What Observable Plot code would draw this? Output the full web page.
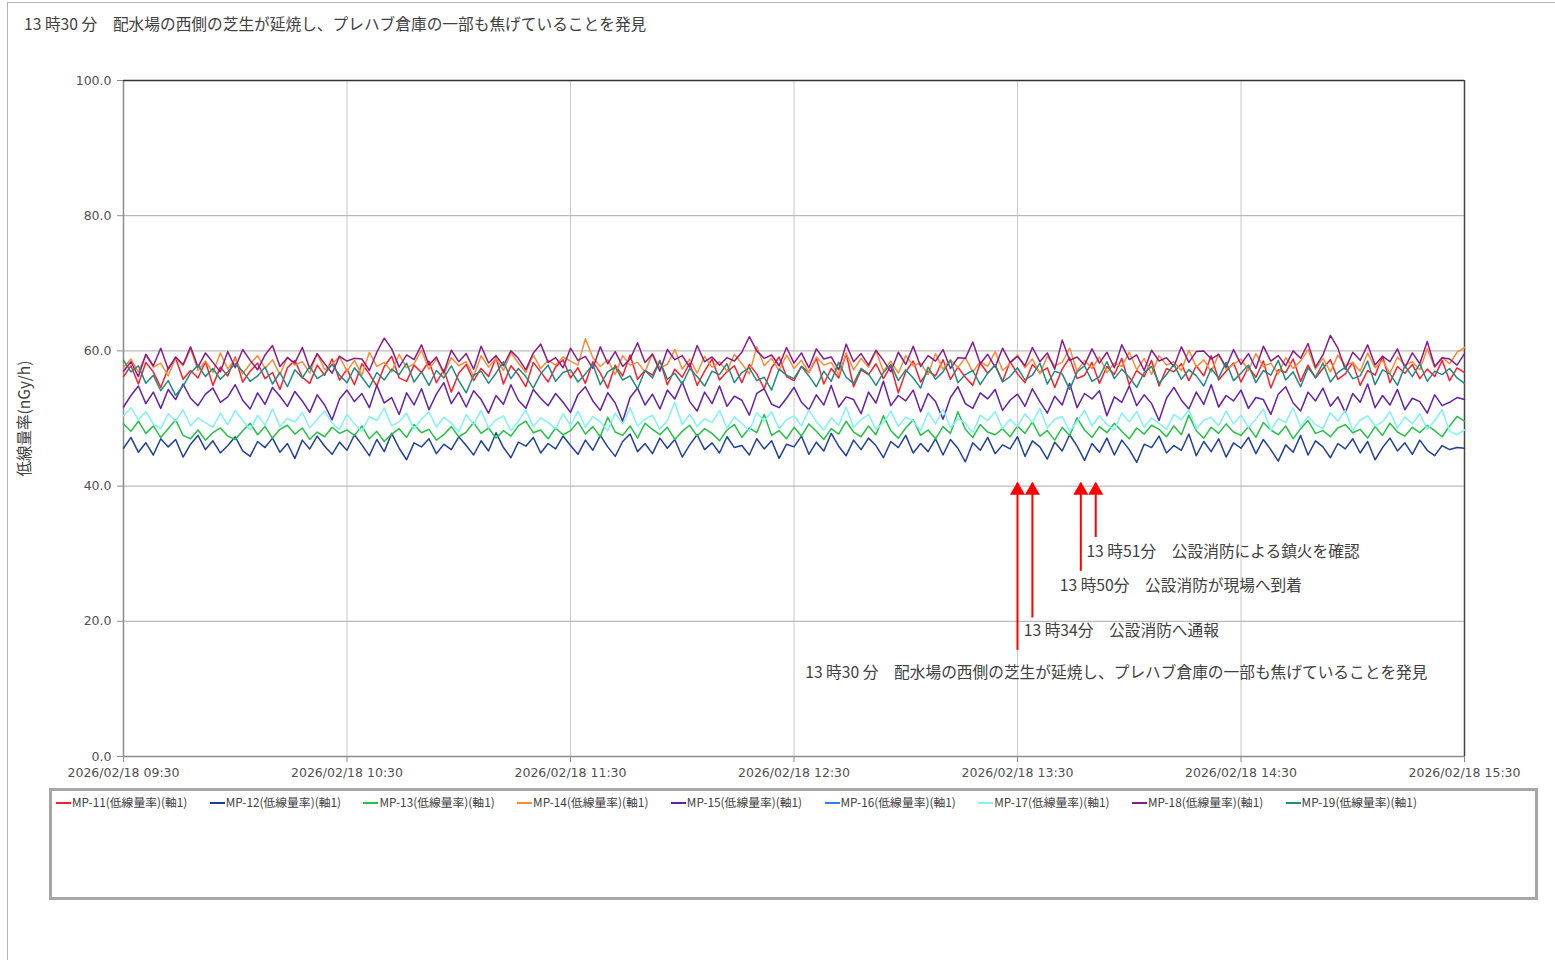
<!DOCTYPE html>
<html>
<head>
<meta charset="utf-8">
<script src="https://cdn.jsdelivr.net/npm/d3@7"></script>
<script src="https://cdn.jsdelivr.net/npm/@observablehq/plot@0.6"></script>
<style>
  html, body { margin: 0; padding: 0; background: #fff; }
  body { position: relative; width: 1555px; height: 960px; overflow: hidden; font-family: "Noto Sans CJK JP", "Noto Sans", sans-serif; color: #404040; }
  #pageframe { position: absolute; left: 7px; top: 2px; right: -2px; bottom: -2px; border-left: 1px solid #b4b4b4; border-top: 1px solid #b4b4b4; }
  #title { position: absolute; left: 24px; top: 13px; font-size: 15.7px; line-height: 22px; color: #404040; white-space: nowrap; }
  #chart { position: absolute; left: 0; top: 0; }
  #legend { position: absolute; left: 49px; top: 788px; width: 1483px; height: 106px; border: 3px solid #a6a6a6; }
  #legend .item { position: absolute; top: 3px; font-size: 11.8px; line-height: 16px; white-space: nowrap; color: #404040; }
  #legend .sw { display: inline-block; width: 15px; height: 1.6px; vertical-align: middle; margin-right: 1px; position: relative; top: -1px; }
</style>
</head>
<body>
<div id="pageframe"></div>
<div id="chart"></div>
<div id="title"></div>
<div id="legend"></div>
<script>
// ---- data ----
const startTime = "2026-02-18T09:30:00Z";
const stepMinutes = 2;
const seriesNames = ["MP-11","MP-12","MP-13","MP-14","MP-15","MP-16","MP-17","MP-18","MP-19"];
const seriesColors = ["#ff1c2c","#1f3f9c","#22c244","#ff8a30","#6420a8","#2f80e8","#80f4f4","#8a1a8c","#1f8a82"];
const legendSuffix = "(低線量率)(軸1)";

const mp11 = [
56.2,57.8,55.1,58.3,56.9,54.6,57.4,58.9,55.8,57.1,56.0,58.4,54.9,57.6,56.3,59.1,55.4,57.0,58.2,55.9,56.8,54.3,57.5,58.6,56.1,55.2,57.9,56.4,58.8,55.7,
57.3,55.0,58.1,56.6,54.8,57.7,59.2,56.0,55.5,57.9,56.8,58.5,55.3,57.2,53.9,56.7,58.0,55.6,57.4,56.2,59.0,55.1,57.8,56.5,54.7,58.3,56.9,55.4,57.6,58.7,
56.0,57.5,55.2,58.4,56.7,54.5,57.9,56.3,59.4,55.8,57.1,56.4,58.6,55.0,57.3,56.1,58.2,54.9,57.0,58.8,55.7,56.9,57.8,55.3,58.0,56.6,54.4,57.5,59.1,56.2,
55.6,57.7,56.8,58.9,55.1,57.4,56.0,59.6,54.7,57.2,56.5,58.1,55.9,57.8,53.8,56.9,58.5,55.4,57.0,56.3,58.7,55.8,57.6,56.1,54.9,58.2,56.7,57.9,55.5,58.4,
56.6,55.3,58.0,56.8,57.5,54.6,57.3,59.0,55.9,56.4,58.3,55.2,57.7,56.5,58.9,55.0,57.1,56.2,58.6,54.8,57.4,56.9,58.1,55.6,57.8,56.3,59.3,55.7,57.0,58.2,
55.4,57.6,56.1,58.5,54.5,57.2,56.8,58.8,55.5,57.9,56.0,57.4,58.7,55.8,56.6,58.3,54.9,57.1,56.4,59.2,55.3,57.7,56.7,58.0,55.9,57.3,56.2,58.6,55.6,57.5,
56.8];
const mp12 = [
45.6,47.2,45.0,46.4,44.6,47.0,45.8,46.9,44.3,46.2,47.5,45.4,46.7,44.9,46.0,47.3,45.2,44.4,46.6,45.7,47.1,45.0,46.3,44.1,46.8,45.5,47.4,45.9,44.7,46.5,
45.3,47.6,46.1,44.5,46.9,45.1,47.8,45.6,43.9,46.4,45.8,47.0,44.8,46.2,45.4,47.3,46.0,44.6,46.7,45.2,47.9,45.7,44.2,46.5,45.9,47.2,44.9,46.3,45.5,47.4,
46.0,44.7,46.8,45.3,47.5,45.8,44.4,46.6,47.7,45.1,46.3,44.8,47.1,45.6,46.9,44.3,46.1,47.6,45.4,46.4,44.9,47.3,45.7,46.0,44.6,47.0,45.5,46.7,44.1,46.2,
45.8,47.4,44.7,46.5,45.2,47.8,45.9,44.5,46.8,45.4,47.1,46.0,44.2,46.6,45.7,47.5,44.9,46.3,45.1,47.0,44.6,46.9,45.6,43.6,46.4,45.3,47.2,44.8,46.1,45.5,
47.3,44.4,46.7,45.8,44.0,46.5,45.2,47.6,45.9,43.8,46.3,45.0,47.1,44.6,46.8,45.4,43.5,46.2,45.7,47.4,44.9,46.0,45.3,47.7,44.5,46.6,45.1,47.0,44.3,46.4,
45.6,47.2,44.8,46.9,45.4,43.7,46.1,45.0,47.5,44.6,46.7,45.8,44.2,46.3,45.5,47.0,44.9,46.6,43.9,45.7,47.1,45.2,46.4,44.7,46.8,45.3,44.5,46.0,45.4,45.7,
45.6];
const mp13 = [
49.2,48.1,49.6,47.8,48.9,47.2,48.5,49.8,47.5,47.0,48.3,46.8,47.9,48.6,47.4,46.9,48.2,49.3,47.6,48.8,47.1,48.4,49.0,47.7,48.6,46.9,48.0,47.3,48.7,47.8,
48.3,47.5,48.9,47.0,48.1,46.6,47.7,48.5,47.2,49.1,47.9,48.4,46.8,47.6,48.8,47.3,48.0,49.4,47.8,48.6,47.1,48.2,47.4,48.9,49.6,47.9,48.3,47.0,48.6,47.6,
48.2,49.5,47.7,48.8,47.3,50.2,48.0,47.5,48.9,47.1,49.3,48.4,47.6,48.7,46.9,48.1,49.0,47.4,48.5,47.8,46.7,48.3,49.1,47.2,48.6,47.9,50.6,47.5,48.2,47.0,
48.7,47.4,49.2,48.1,46.9,48.5,47.7,49.6,48.0,47.3,48.9,47.6,50.4,48.2,47.1,48.6,49.8,47.5,48.3,47.0,48.8,47.8,51.0,48.4,47.2,49.1,48.0,47.6,48.5,47.3,
48.9,47.8,49.5,47.4,48.2,46.8,48.7,47.5,50.1,48.3,47.2,48.8,47.9,49.3,48.1,47.0,48.6,47.7,49.0,48.4,47.3,48.9,47.6,50.5,48.2,47.1,48.7,47.8,49.2,48.0,
47.5,48.8,47.2,49.4,48.3,47.6,48.9,47.0,48.5,49.7,47.8,48.2,47.3,48.6,49.1,47.9,48.4,47.1,48.8,47.5,49.3,48.0,47.4,48.7,47.9,49.0,48.2,47.3,48.9,50.3,
49.6];
const mp14 = [
57.5,58.8,56.9,59.4,57.6,58.2,56.3,59.0,57.8,60.3,57.1,58.5,56.8,59.7,57.3,58.9,56.6,58.1,59.3,57.4,58.7,56.5,59.1,57.9,58.4,56.7,59.6,57.2,58.0,59.2,
57.0,58.6,56.4,59.8,57.7,58.3,56.9,59.5,57.5,58.1,60.1,57.3,58.8,56.6,59.0,57.8,58.4,56.2,59.3,57.6,58.9,57.1,59.7,58.2,56.8,59.4,57.4,58.6,57.9,59.1,
58.5,57.9,61.8,59.0,57.7,58.7,56.5,59.3,57.9,58.3,56.9,59.6,57.5,58.0,60.2,57.3,58.8,56.7,59.2,57.6,58.4,57.0,59.5,58.1,56.6,60.6,57.8,58.9,57.1,59.4,
57.4,58.6,56.8,59.1,57.9,58.3,56.4,59.7,57.2,58.9,57.6,60.0,57.0,58.5,56.7,59.3,57.8,58.2,56.5,59.6,57.3,58.7,57.5,59.0,56.9,58.4,57.7,59.9,57.1,58.1,
59.4,57.5,58.8,56.6,59.2,57.8,58.3,60.4,57.0,58.6,57.4,59.1,56.8,58.2,57.7,59.8,57.2,58.9,56.5,59.3,57.9,58.4,57.1,60.1,57.6,58.7,56.9,59.5,57.3,58.0,
58.8,57.1,59.6,57.7,58.2,56.6,59.0,57.4,58.5,60.2,57.3,58.9,56.9,59.4,57.8,58.3,57.0,59.7,57.5,58.6,56.7,59.1,57.9,58.4,57.2,60.3,57.6,59.0,58.1,59.8,
60.5];
const mp15 = [
51.7,53.4,54.8,52.2,53.9,51.5,54.3,52.8,55.1,53.0,51.9,53.6,54.5,52.4,53.2,55.0,52.7,51.4,53.8,52.1,54.6,53.3,51.8,54.0,52.6,50.9,53.5,52.0,49.8,52.9,
54.2,52.5,53.7,51.6,54.9,52.3,53.1,50.6,53.8,52.0,54.4,51.3,53.6,55.3,52.2,53.9,51.7,54.1,52.8,50.8,53.4,52.1,55.0,52.7,51.5,54.3,53.0,51.9,53.7,52.4,
50.9,53.5,54.7,52.6,51.2,53.8,52.3,49.6,53.1,54.5,52.0,53.6,51.4,54.2,52.9,55.4,52.5,51.1,53.9,52.2,54.8,51.8,53.3,52.7,50.5,53.7,54.4,52.1,51.6,53.0,
54.6,52.4,51.3,53.5,52.0,54.9,51.7,53.2,52.8,50.7,53.9,52.3,55.5,51.9,53.4,52.6,54.2,51.0,53.7,52.5,49.9,53.1,54.7,52.2,51.5,53.8,52.9,54.3,51.2,52.7,
53.6,51.8,54.4,52.5,50.8,53.3,52.0,55.2,51.6,53.7,52.9,54.1,50.4,53.2,52.4,54.8,51.9,53.5,52.2,49.7,53.0,54.6,52.7,51.4,53.9,52.1,55.0,51.7,53.4,52.6,
54.2,51.5,53.1,52.8,50.6,53.6,54.7,52.3,51.1,53.9,52.6,54.5,51.8,53.2,50.9,53.7,52.4,55.1,51.6,53.4,52.0,54.3,51.3,53.0,52.5,50.8,53.5,51.9,52.4,53.1,
52.8];
const mp16 = []; // no readings drawn for MP-16
const mp17 = [
50.4,51.6,49.8,51.0,49.2,48.5,50.7,49.6,51.3,48.9,50.1,49.4,48.7,50.8,49.1,51.2,49.7,48.3,50.5,49.0,51.4,48.8,50.0,49.5,50.9,48.6,49.9,51.1,49.3,48.4,
50.6,49.2,48.1,50.3,49.7,51.5,48.9,49.5,50.8,48.4,49.9,51.0,48.7,50.2,49.3,48.0,50.6,49.1,51.2,48.6,49.8,50.4,48.2,49.6,51.3,48.8,50.1,49.4,48.5,50.7,
49.0,51.1,48.7,50.3,49.5,48.2,50.8,49.2,51.6,48.9,49.9,50.5,48.4,49.7,52.4,49.1,50.6,48.8,50.0,49.4,51.2,48.6,50.2,49.3,48.1,50.9,49.6,51.0,48.5,49.8,
50.4,48.9,51.3,49.5,48.3,50.1,49.0,51.7,48.7,49.8,50.6,48.4,49.4,51.1,48.8,50.2,49.6,48.2,50.9,49.2,51.4,48.6,50.0,49.3,47.9,50.5,49.7,51.0,48.5,49.9,
48.8,50.7,49.4,51.5,48.6,49.9,50.3,48.1,49.6,51.2,48.9,50.4,49.1,48.3,50.8,49.5,51.0,48.7,50.1,49.3,48.4,50.6,49.8,51.3,48.5,49.7,50.2,48.9,51.1,49.2,
50.5,48.7,49.9,51.4,48.2,50.0,49.4,51.6,48.8,50.3,49.1,48.5,50.9,49.6,51.2,48.3,49.8,50.4,48.9,49.5,51.0,48.6,50.2,49.2,50.7,48.4,49.7,51.3,48.1,47.6,
48.3];
const mp18 = [
57.0,58.4,56.2,59.5,57.8,60.4,57.3,59.1,58.0,60.6,57.6,59.7,58.3,56.9,59.9,57.5,60.2,58.6,57.2,59.4,60.8,57.7,59.0,58.2,60.5,57.4,59.6,58.1,56.7,59.2,
58.5,58.9,58.8,57.1,59.8,61.9,60.3,57.6,59.4,58.7,60.9,57.9,59.1,56.8,60.1,58.4,59.6,57.3,60.7,58.2,59.3,57.8,60.0,58.9,57.2,59.7,61.0,58.3,59.0,57.5,
60.4,58.6,59.2,57.4,60.6,58.1,59.9,57.7,58.8,61.2,58.3,59.5,57.0,60.2,58.7,59.3,57.6,60.8,58.4,59.1,57.9,59.0,58.5,59.8,62.1,60.0,58.9,59.4,57.8,60.5,
58.2,59.7,57.5,60.3,58.8,59.1,57.2,61.0,58.4,59.6,57.9,60.1,58.6,56.9,59.8,58.0,60.7,57.7,59.3,58.5,60.2,57.4,59.0,58.9,61.3,58.1,59.5,57.6,60.4,58.3,
59.2,57.8,60.5,58.4,59.7,57.3,61.6,58.6,59.1,57.9,60.3,58.2,59.8,57.5,60.9,58.7,59.4,57.1,60.1,58.5,59.0,57.7,60.6,58.3,59.9,60.0,58.8,59.5,57.6,60.2,
58.0,59.6,57.4,60.7,58.5,59.3,57.8,60.0,58.9,61.1,57.6,59.4,62.3,60.4,57.3,59.8,58.6,60.9,57.9,59.2,58.4,60.3,57.5,59.7,58.1,61.4,57.7,59.0,58.8,57.9,
59.6];
const mp19 = [
58.6,56.9,57.8,55.2,56.4,54.1,55.6,53.4,54.8,56.7,57.9,56.2,57.4,55.8,56.9,58.1,57.0,55.5,56.3,57.6,55.1,56.8,54.7,57.2,56.0,57.7,55.9,56.6,58.0,56.4,
55.3,57.5,56.1,54.6,56.8,55.7,57.3,56.5,58.2,55.4,56.9,54.9,57.1,56.0,57.8,55.6,53.8,56.4,57.0,55.2,56.7,58.4,55.9,57.4,56.2,54.5,56.6,57.9,55.5,56.8,
57.2,55.4,56.6,58.0,55.0,56.9,57.6,55.7,56.3,54.4,57.1,56.0,58.5,55.8,56.7,55.1,57.4,56.2,54.8,57.0,56.5,58.1,55.3,56.8,57.5,55.6,56.1,54.2,57.3,56.4,
55.9,57.7,56.3,54.7,57.0,55.5,58.3,56.1,55.2,57.4,56.6,54.9,56.8,58.0,55.6,57.2,56.0,54.5,57.6,55.8,56.9,58.6,55.3,56.5,57.1,55.0,56.7,57.9,55.4,56.2,
57.5,55.7,56.4,58.2,55.1,57.0,56.6,54.3,56.9,57.8,55.5,56.2,58.4,55.9,57.3,56.1,54.6,56.8,57.7,55.2,56.5,58.0,55.8,57.2,56.3,54.8,57.4,56.0,58.3,55.6,
56.7,57.9,55.3,57.1,56.4,58.6,55.7,56.9,54.7,57.5,56.1,58.2,55.4,56.8,57.6,55.9,56.3,58.5,55.0,57.2,56.6,54.9,57.8,56.2,58.1,55.5,57.0,56.5,57.4,56.0,
55.2];
const seriesValues = [mp11, mp12, mp13, mp14, mp15, mp16, mp17, mp18, mp19];

const xTickLabels = ["2026/02/18 09:30","2026/02/18 10:30","2026/02/18 11:30","2026/02/18 12:30","2026/02/18 13:30","2026/02/18 14:30","2026/02/18 15:30"];
const yTickValues = [0, 20, 40, 60, 80, 100];
const yLabel = "低線量率(nGy/h)";
const titleText = "13 時30 分　配水場の西側の芝生が延焼し、プレハブ倉庫の一部も焦げていることを発見";

// event arrows (time of arrow, lower end value)
const arrowTimes = ["2026/02/18 13:30","2026/02/18 13:34","2026/02/18 13:47","2026/02/18 13:51"];
const arrowBottoms = [15.7, 20.5, 27.4, 32.4];
const arrowTip = 40.4;
// event notes (anchor time, value, text)
const noteTimes = ["2026/02/18 13:48:30","2026/02/18 13:41:20","2026/02/18 13:31:40","2026/02/18 12:33:00"];
const noteValues = [30.2, 25.3, 18.5, 12.3];
const noteTexts = ["13 時51分　公設消防による鎮火を確認","13 時50分　公設消防が現場へ到着","13 時34分　公設消防へ通報","13 時30 分　配水場の西側の芝生が延焼し、プレハブ倉庫の一部も焦げていることを発見"];

// ---- build ----
const parse = d3.utcParse("%Y/%m/%d %H:%M");
const parseS = d3.utcParse("%Y/%m/%d %H:%M:%S");
const fmt = d3.utcFormat("%Y/%m/%d %H:%M");
const t0 = new Date(startTime);
const xTicks = xTickLabels.map(parse);
const timeAt = i => new Date(t0.getTime() + i * stepMinutes * 60000);

const arrows = arrowTimes.map((t, i) => ({time: parse(t), bottom: arrowBottoms[i], tip: arrowTip}));
const notes = noteTimes.map((t, i) => ({time: parseS(t), value: noteValues[i], text: noteTexts[i]}));

const lineMarks = seriesValues.map((vals, s) =>
  Plot.line(vals.map((v, i) => ({time: timeAt(i), value: v})), {x: "time", y: "value", stroke: seriesColors[s], strokeWidth: 1.5})
);

const tickFont = '"DejaVu Sans", "Noto Sans", sans-serif';

const chart = Plot.plot({
  width: 1555,
  height: 960,
  marginLeft: 123,
  marginRight: 91,
  marginTop: 80,
  marginBottom: 204,
  style: {fontFamily: '"Noto Sans CJK JP", "Noto Sans", sans-serif', fontSize: "12px", color: "#404040", background: "transparent", overflow: "visible"},
  x: {type: "utc", domain: [xTicks[0], xTicks[xTicks.length - 1]]},
  y: {domain: [0, 100]},
  marks: [
    Plot.gridX(xTicks, {stroke: "#c9c9c9", strokeOpacity: 1, strokeWidth: 1}),
    Plot.gridY(yTickValues, {stroke: "#a9a9a9", strokeOpacity: 1, strokeWidth: 1}),
    Plot.ruleY([0], {stroke: "#8c8c8c", strokeWidth: 1.5}),
    Plot.ruleX([xTicks[0]], {stroke: "#8c8c8c", strokeWidth: 1.5}),
    Plot.ruleY([100], {stroke: "#333", strokeWidth: 1.5}),
    Plot.ruleX([xTicks[xTicks.length - 1]], {stroke: "#444", strokeWidth: 1.5}),
    Plot.axisY({ticks: yTickValues, tickFormat: d => d.toFixed(1), tickSize: 6, tickPadding: 6, stroke: "#8c8c8c", label: null, fontSize: 12.5, fontFamily: tickFont, fill: "#505050"}),
    Plot.axisX({ticks: xTicks, tickFormat: fmt, tickSize: 6, tickPadding: 6, stroke: "#8c8c8c", label: null, fontSize: 12.5, fontFamily: tickFont, fill: "#505050"}),
    Plot.text([yLabel], {frameAnchor: "left", textAnchor: "middle", dx: -98, rotate: -90, fontSize: 15.5, fill: "#404040", text: d => d}),
    ...lineMarks,
    Plot.ruleX(arrows, {x: "time", y1: "bottom", y2: "tip", stroke: "#ff0000", strokeWidth: 2}),
    Plot.dot(arrows, {x: "time", y: "tip", symbol: "triangle", r: 5.6, fill: "#ff0000", stroke: "none", dy: 7}),
    Plot.text(notes, {x: "time", y: "value", text: "text", textAnchor: "start", fontSize: 15.7, fill: "#404040"})
  ]
});
document.getElementById("chart").appendChild(chart);

document.getElementById("title").textContent = titleText;

const legend = document.getElementById("legend");
seriesNames.forEach((name, i) => {
  const item = document.createElement("div");
  item.className = "item";
  item.style.left = (4 + i * 153.7) + "px";
  const sw = document.createElement("span");
  sw.className = "sw";
  sw.style.background = seriesColors[i];
  item.appendChild(sw);
  item.appendChild(document.createTextNode(name + legendSuffix));
  legend.appendChild(item);
});
</script>
</body>
</html>
